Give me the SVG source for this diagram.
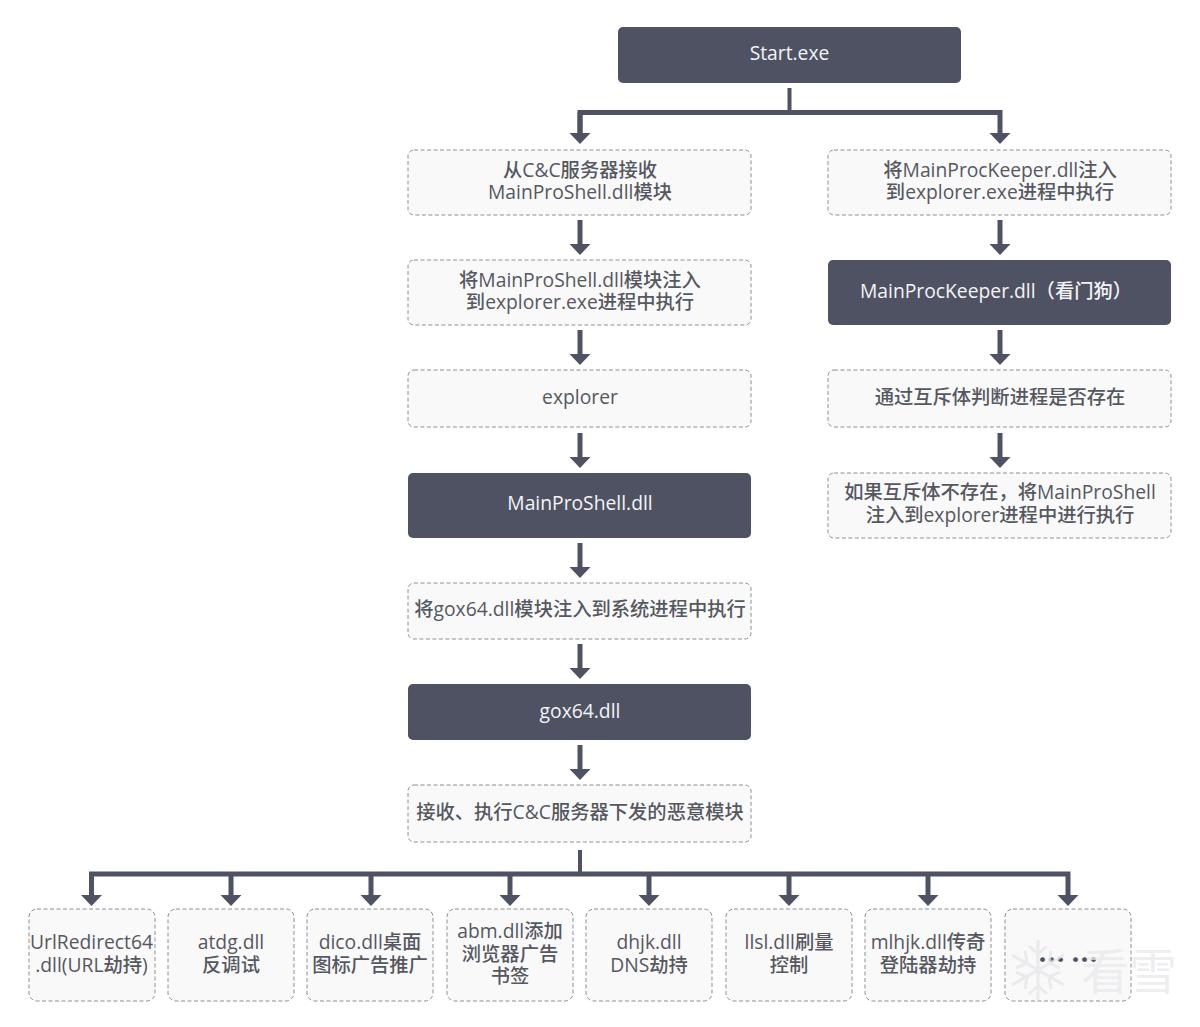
<svg xmlns="http://www.w3.org/2000/svg" width="1200" height="1027" viewBox="0 0 1200 1027">
<style>
text{font-family:"Open Sans","Noto Sans CJK SC",sans-serif;font-size:19.3px;font-weight:500;text-anchor:middle}
.d rect{fill:#4e5263}
.d text{fill:#f4f4f6}
.l rect{fill:#f9f9fa;stroke:#8f9095;stroke-width:1;stroke-dasharray:4 2.5}
.l text{fill:#55585f}
.c path{fill:none;stroke:#4e5263;stroke-width:5}
.c .thin{stroke-width:4}
.l .dots{font-family:"Noto Sans CJK SC",sans-serif;font-size:27px;font-weight:900;fill:#4e5263}
.wm{fill:#e9e9ec;font-size:48px;font-weight:400;opacity:.75}
.flake{fill:none;stroke:#e6e6e9;stroke-width:3;opacity:.75}
</style>
<defs>
<marker id="h" markerUnits="userSpaceOnUse" markerWidth="12" markerHeight="22" refX="0" refY="10.500" orient="auto"><path d="M0 0L11 10.500L0 21Z" fill="#4e5263"/></marker>
</defs>
<rect width="1200" height="1027" fill="#fff"/>
<g id="connectors" class="c">
<path class="thin" d="M789.500 88V112"/>
<path d="M580 133V112.500H1000V133" marker-end="url(#h)"/>
<path d="M580 112.500V133" marker-end="url(#h)"/>
<path d="M580 220V244" marker-end="url(#h)"/>
<path d="M580 330V354" marker-end="url(#h)"/>
<path d="M580 433V457" marker-end="url(#h)"/>
<path d="M580 543V567" marker-end="url(#h)"/>
<path d="M580 644V668" marker-end="url(#h)"/>
<path d="M580 745V769" marker-end="url(#h)"/>
<path d="M1000 220V244" marker-end="url(#h)"/>
<path d="M1000 330V354" marker-end="url(#h)"/>
<path d="M1000 433V457" marker-end="url(#h)"/>
<path class="thin" d="M580 850V874"/>
<path d="M91.500 895V874H1068V895" marker-end="url(#h)"/>
<path d="M91.500 874V895" marker-end="url(#h)"/>
<path d="M231 874V895" marker-end="url(#h)"/>
<path d="M371 874V895" marker-end="url(#h)"/>
<path d="M510 874V895" marker-end="url(#h)"/>
<path d="M649 874V895" marker-end="url(#h)"/>
<path d="M789 874V895" marker-end="url(#h)"/>
<path d="M928 874V895" marker-end="url(#h)"/>
</g>
<g id="start" class="d"><rect x="618" y="27" width="343" height="56" rx="5"/><text x="789.500" y="60">Start.exe</text></g>
<g id="recv" class="l"><rect x="408" y="150" width="343" height="65" rx="6"/><text x="580" y="177">从C&amp;C服务器接收<tspan x="580" dy="22">MainProShell.dll模块</tspan></text></g>
<g id="inject-shell" class="l"><rect x="408" y="260" width="343" height="65" rx="6"/><text x="580" y="286.500">将MainProShell.dll模块注入<tspan x="580" dy="22.500">到explorer.exe进程中执行</tspan></text></g>
<g id="explorer" class="l"><rect x="408" y="370" width="343" height="57" rx="6"/><text x="580" y="404">explorer</text></g>
<g id="mainproshell" class="d"><rect x="408" y="473" width="343" height="65" rx="5"/><text x="580" y="510">MainProShell.dll</text></g>
<g id="inject-gox" class="l"><rect x="408" y="583" width="343" height="56" rx="6"/><text x="580" y="616">将gox64.dll模块注入到系统进程中执行</text></g>
<g id="gox" class="d"><rect x="408" y="684" width="343" height="56" rx="5"/><text x="580" y="718">gox64.dll</text></g>
<g id="recv-mod" class="l"><rect x="408" y="785" width="343" height="57" rx="6"/><text x="580" y="819">接收、执行C&amp;C服务器下发的恶意模块</text></g>
<g id="inject-keeper" class="l"><rect x="828" y="150" width="343" height="65" rx="6"/><text x="1000" y="177">将MainProcKeeper.dll注入<tspan x="1000" dy="22">到explorer.exe进程中执行</tspan></text></g>
<g id="keeper" class="d"><rect x="828" y="260" width="343" height="65" rx="5"/><text x="996" y="298">MainProcKeeper.dll（看门狗）</text></g>
<g id="mutex" class="l"><rect x="828" y="370" width="343" height="57" rx="6"/><text x="1000" y="404">通过互斥体判断进程是否存在</text></g>
<g id="reinject" class="l"><rect x="828" y="473" width="343" height="65" rx="6"/><text x="1000" y="499">如果互斥体不存在，将MainProShell<tspan x="1000" dy="22.500">注入到explorer进程中进行执行</tspan></text></g>
<g id="m1" class="l"><rect x="29" y="909" width="126" height="92" rx="8"/><text x="91.500" y="949">UrlRedirect64<tspan x="91.500" dy="23">.dll(URL劫持)</tspan></text></g>
<g id="m2" class="l"><rect x="168" y="909" width="126" height="92" rx="8"/><text x="231" y="949">atdg.dll<tspan x="231" dy="23">反调试</tspan></text></g>
<g id="m3" class="l"><rect x="307" y="909" width="126" height="92" rx="8"/><text x="370" y="949">dico.dll桌面<tspan x="370" dy="23">图标广告推广</tspan></text></g>
<g id="m4" class="l"><rect x="447" y="909" width="126" height="92" rx="8"/><text x="510" y="938">abm.dll添加<tspan x="510" dy="23">浏览器广告</tspan><tspan x="510" dy="22">书签</tspan></text></g>
<g id="m5" class="l"><rect x="586" y="909" width="126" height="92" rx="8"/><text x="649" y="949">dhjk.dll<tspan x="649" dy="23">DNS劫持</tspan></text></g>
<g id="m6" class="l"><rect x="726" y="909" width="126" height="92" rx="8"/><text x="789" y="949">llsl.dll刷量<tspan x="789" dy="23">控制</tspan></text></g>
<g id="m7" class="l"><rect x="865" y="909" width="126" height="92" rx="8"/><text x="928" y="949">mlhjk.dll传奇<tspan x="928" dy="23">登陆器劫持</tspan></text></g>
<g id="m8" class="l"><rect x="1005" y="909" width="126" height="92" rx="8"/><text class="dots" x="1068" y="970" lang="zh-CN">… …</text></g>
<g id="watermark"><path class="flake" d="M1038 940V1000M1012 955L1064 985M1064 955L1012 985M1029 946L1038 954L1047 946M1029 994L1038 986L1047 994M1016 968L1027 963L1025 951M1060 968L1049 963L1051 951M1016 972L1027 977L1025 989M1060 972L1049 977L1051 989"/><text class="wm" x="1129" y="989">看雪</text></g>
</svg>
